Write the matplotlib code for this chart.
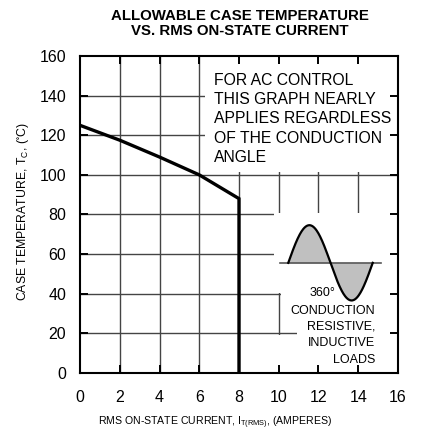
import numpy as np
import matplotlib.pyplot as plt
from matplotlib.patches import Polygon

plt.rcParams['font.family'] = ['Liberation Sans', 'DejaVu Sans']

# derating curve
current = [0, 2, 4, 6, 8, 8]
temp = [125, 117.5, 109, 100, 88, 0]

x_ticks = [0, 2, 4, 6, 8, 10, 12, 14, 16]
y_ticks = [0, 20, 40, 60, 80, 100, 120, 140, 160]

fig = plt.figure(figsize=(4.27, 4.32), dpi=100)
ax = fig.add_axes([0.1874, 0.1366, 0.7446, 0.7338])
ax.set_xlim(0, 16)
ax.set_ylim(0, 160)

# grid drawn by hand so the white note areas can cover it but not the ticks
ax.vlines(x_ticks[1:-1], 0, 160, color='#444444', lw=1, zorder=1)
ax.hlines(y_ticks[1:-1], 0, 16, color='#444444', lw=1, zorder=1)

# white areas behind the notes
ax.add_patch(Polygon([(6.3, 101.5), (16, 101.5), (16, 160), (6.3, 160)],
                     closed=True, fc='white', ec='none', zorder=1.5))
ax.add_patch(Polygon([(9.75, 80.6), (16, 80.6), (16, 0), (9.9, 0), (9.9, 19.3),
                      (10.9, 19.3), (10.9, 20.7), (10.1, 20.7), (10.1, 40.6),
                      (9.75, 40.6)],
                     closed=True, fc='white', ec='none', zorder=1.5))

ax.plot(current, temp, color='black', lw=2.4, solid_joinstyle='miter', zorder=3)

# sine wave sketch
base = 55.6
amp = 19
t = np.linspace(0, 2 * np.pi, 200)
xs = 10.48 + (14.73 - 10.48) * t / (2 * np.pi)
ys = base + amp * np.sin(t)
ax.fill_between(xs, base, ys, color='#c0c0c0', lw=0, zorder=2.6)
ax.plot([10.06, 15.15], [base, base], color='#555555', lw=1.2, zorder=2.7)
ax.plot(xs, ys, color='black', lw=1.6, zorder=2.8)

ax.text(6.72, 151.5, 'FOR AC CONTROL\nTHIS GRAPH NEARLY\nAPPLIES REGARDLESS\nOF THE CONDUCTION\nANGLE',
        fontsize=11.3, ha='left', va='top', linespacing=1.36, zorder=4)
ax.text(11.57, 40.4, '360°', fontsize=9, ha='left', va='center', zorder=4)
ax.text(14.84, 34.5, 'CONDUCTION\nRESISTIVE,\nINDUCTIVE\nLOADS', fontsize=9,
        ha='right', va='top', linespacing=1.48, zorder=4)

ax.set_axisbelow(False)
ax.set_xticks(x_ticks)
ax.set_yticks(y_ticks)
ax.tick_params(direction='in', length=6, width=1.4, top=True, right=True,
               labelsize=11.5)
ax.tick_params(axis='x', pad=12.5)
ax.tick_params(axis='y', pad=10)
for s in ax.spines.values():
    s.set_linewidth(1.5)
    s.set_zorder(5)

fig.text(0.562, 0.979, 'ALLOWABLE CASE TEMPERATURE\nVS. RMS ON-STATE CURRENT',
         ha='center', va='top', fontsize=10.8, fontweight='bold', linespacing=1.05)
fig.text(0.503, 0.021, 'RMS ON-STATE CURRENT, I$_{\\mathregular{T(RMS)}}$, (AMPERES)',
         ha='center', va='center', fontsize=7.6)
fig.text(0.055, 0.51, 'CASE TEMPERATURE, T$_{\\mathregular{C}}$, ($\\mathregular{^{\\circ}}$C)',
         rotation=90, ha='center', va='center', fontsize=8.8)

fig.savefig('out.png', dpi=100)
